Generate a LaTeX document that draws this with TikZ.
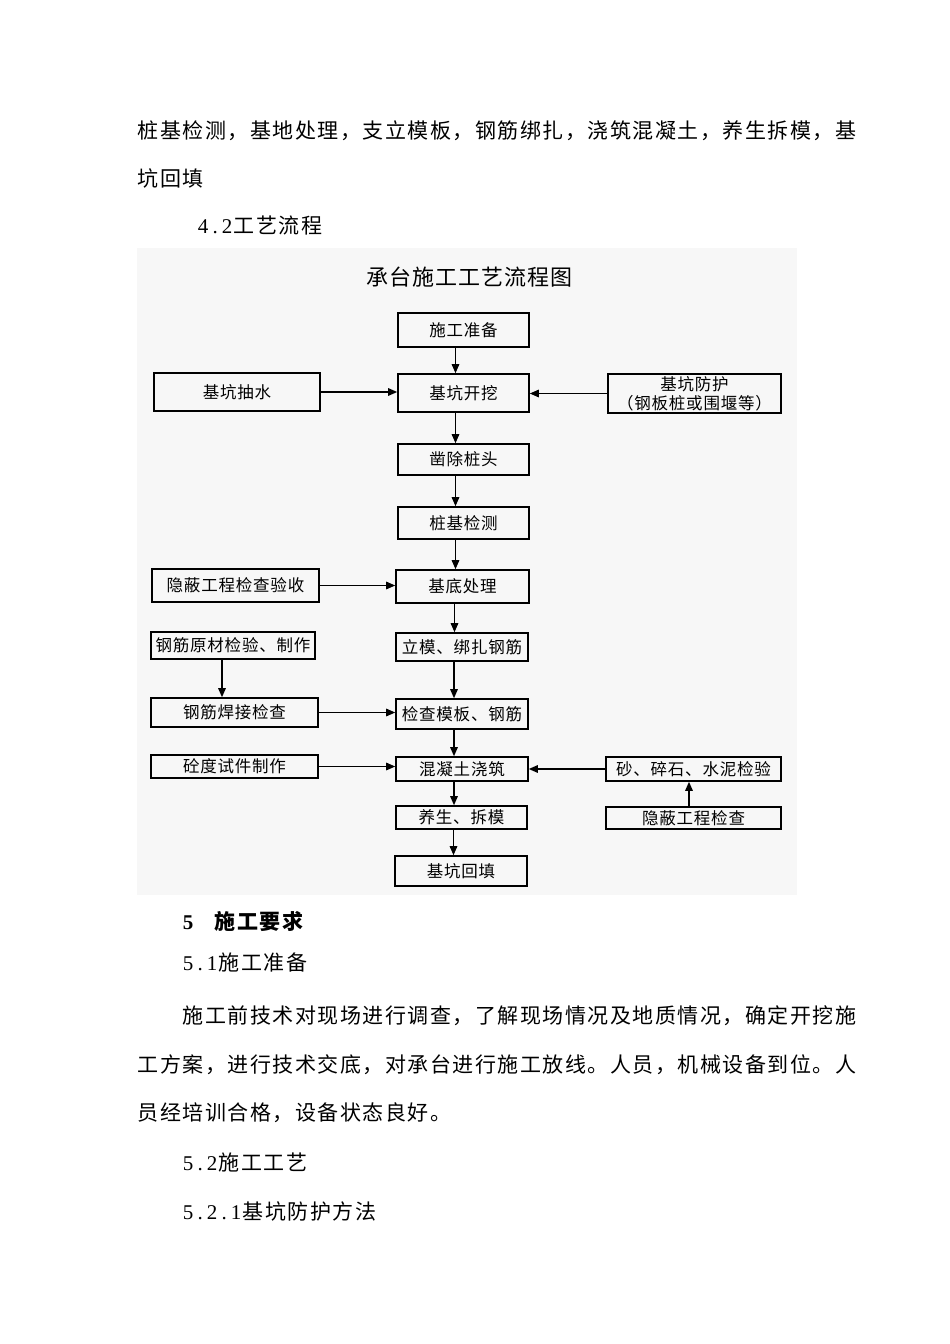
\documentclass[tikz,border=0pt]{standalone}
\usepackage{fontspec}
\setmainfont{Liberation Serif}
\newfontfamily\zh{Noto Sans CJK SC}
\usetikzlibrary{arrows.meta}
\newlength\cjw
\newlength\dgw
\ExplSyntaxOn
\NewDocumentCommand\cj{m}{\tl_map_inline:nn{#1}{\makebox[\cjw][c]{\zh ##1}}}
\NewDocumentCommand\dg{m}{\tl_map_inline:nn{#1}{\makebox[\dgw][c]{##1}}}
\ExplSyntaxOff
\tikzset{
  body/.style={anchor=base west, inner sep=0pt,
    font={\fontsize{21}{24}\selectfont\setlength\cjw{22.5pt}\setlength\dgw{12pt}}},
  ttl/.style={anchor=center, inner sep=0pt,
    font={\fontsize{22}{24}\selectfont\setlength\cjw{23pt}}},
  box/.style={draw, line width=1.6pt, inner sep=0pt, align=center,
    font={\fontsize{16.5}{18}\selectfont\setlength\cjw{17.3pt}}},
  arr/.style={-{Triangle[length=9pt,width=7.5pt]}, line width=1.4pt},
}
\begin{document}
\begin{tikzpicture}[x=1pt,y=-1pt]
\useasboundingbox (0,0) rectangle (950,1344);
\fill[white] (0,0) rectangle (950,1344);
% text above
\node[body] (l1) at (137,138) {\cj{桩基检测，基地处理，支立模板，钢筋绑扎，浇筑混凝土，养生拆模，基}};
\node[body] (l2) at (137,186) {\cj{坑回填}};
\node[body] (l3) at (197,233) {\dg{4.2}\cj{工艺流程}};
% flowchart background
\fill[black!3] (137,248) rectangle (797,895);
\node[ttl] (title) at (469.5,277) {\cj{承台施工工艺流程图}};
% boxes
\node[box, minimum width=131pt, minimum height=34pt] (prep) at (463.5,330) {\cj{施工准备}};
\node[box, minimum width=131pt, minimum height=38pt] (dig) at (463.5,393) {\cj{基坑开挖}};
\node[box, minimum width=166pt, minimum height=38pt] (pump) at (237,392) {\cj{基坑抽水}};
\node[box, minimum width=173pt, minimum height=39pt] (prot) at (694.5,393.5) {\cj{基坑防护}\\[1pt]\cj{（钢板桩或围堰等）}};
\node[box, minimum width=131pt, minimum height=31pt] (cut) at (463.5,459.5) {\cj{凿除桩头}};
\node[box, minimum width=131pt, minimum height=32pt] (test) at (463.5,523) {\cj{桩基检测}};
\node[box, minimum width=167pt, minimum height=33pt] (hidA) at (235.5,585.5) {\cj{隐蔽工程检查验收}};
\node[box, minimum width=133pt, minimum height=33pt] (base) at (462.5,586.5) {\cj{基底处理}};
\node[box, minimum width=164pt, minimum height=27pt] (raw) at (233,645.5) {\cj{钢筋原材检验、制作}};
\node[box, minimum width=132pt, minimum height=28pt] (form) at (462,647) {\cj{立模、绑扎钢筋}};
\node[box, minimum width=167pt, minimum height=29pt] (weld) at (234.5,712.5) {\cj{钢筋焊接检查}};
\node[box, minimum width=132pt, minimum height=30pt] (check) at (462,714) {\cj{检查模板、钢筋}};
\node[box, minimum width=167pt, minimum height=23pt] (spec) at (234.5,766.5) {\cj{砼度试件制作}};
\node[box, minimum width=132pt, minimum height=24pt] (pour) at (462,769) {\cj{混凝土浇筑}};
\node[box, minimum width=175pt, minimum height=24pt] (sand) at (693.5,769) {\cj{砂、碎石、水泥检验}};
\node[box, minimum width=131pt, minimum height=23pt] (cure) at (461.5,817.5) {\cj{养生、拆模}};
\node[box, minimum width=175pt, minimum height=22pt] (hidB) at (693.5,818) {\cj{隐蔽工程检查}};
\node[box, minimum width=132pt, minimum height=30pt] (fill) at (461,871) {\cj{基坑回填}};
% vertical arrows main column
\foreach \a/\b in {prep/dig, dig/cut, cut/test, test/base, base/form, form/check, check/pour, pour/cure, cure/fill}
  \draw[arr] ([xshift=-8pt]\a.south) -- ([xshift=-8pt]\a.south |- \b.north);
\draw[arr] ([xshift=-11pt]raw.south) -- ([xshift=-11pt]raw.south |- weld.north);
\draw[arr] ([xshift=-4.5pt]hidB.north) -- ([xshift=-4.5pt]hidB.north |- sand.south);
% horizontal arrows
\draw[arr] (pump.east) -- (pump.east -| dig.west);
\draw[arr] (prot.west) -- (prot.west -| dig.east);
\draw[arr] (hidA.east) -- (hidA.east -| base.west);
\draw[arr] (weld.east) -- (weld.east -| check.west);
\draw[arr] (spec.east) -- (spec.east -| pour.west);
\draw[arr] (sand.west) -- (sand.west -| pour.east);
% text below
\node[body] (h5) at (182,929) {\bfseries\dg{5}\hspace{20pt}\cj{施工要求}};
\node[body] (s51) at (182,970) {\dg{5.1}\cj{施工准备}};
\node[body] (p1) at (182,1023) {\cj{施工前技术对现场进行调查，了解现场情况及地质情况，确定开挖施}};
\node[body] (p2) at (137,1072) {\cj{工方案，进行技术交底，对承台进行施工放线。人员，机械设备到位。人}};
\node[body] (p3) at (137,1120) {\cj{员经培训合格，设备状态良好。}};
\node[body] (s52) at (182,1170) {\dg{5.2}\cj{施工工艺}};
\node[body] (s521) at (182,1219) {\dg{5.2.1}\cj{基坑防护方法}};
\end{tikzpicture}
\end{document}
